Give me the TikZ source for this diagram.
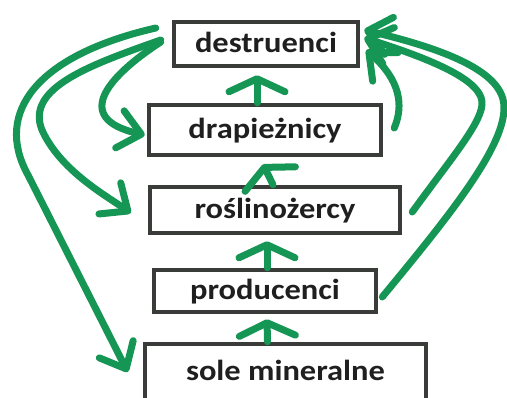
\documentclass[tikz,border=0pt]{standalone}
\usepackage{fontspec}
\setmainfont{Carlito}
\usetikzlibrary{arrows.meta}
\definecolor{grn}{RGB}{22,150,85}
\definecolor{boxc}{RGB}{58,60,58}
\begin{document}
\begin{tikzpicture}[x=1pt,y=-1pt,
  box/.style={draw=boxc,line width=4.5pt,fill=white,inner sep=0pt,
    font=\fontsize{29}{33}\selectfont\bfseries\addfontfeature{FakeStretch=1.12},text=black!88,
    text height=22pt,text depth=4pt},
  sarrow/.style={draw=grn,line width=7pt,line cap=round,
    -{Straight Barb[length=13pt,width=56pt,round]}},
  carrow/.style={draw=grn,line width=7pt,line cap=round,line join=round,
    -{Straight Barb[length=22pt,width=38pt,round]}}]
\useasboundingbox (0,0) rectangle (507,398);
\node[box,minimum width=184pt,minimum height=44pt] (des) at (266,44) {destruenci};
\node[box,minimum width=232pt,minimum height=50pt] (drap) at (265,130) {drapieżnicy};
\node[box,minimum width=250pt,minimum height=46pt] (rosl) at (275,210) {roślinożercy};
\node[box,minimum width=222pt,minimum height=42pt] (prod) at (265,291) {producenci};
\node[box,minimum width=281pt,minimum height=56pt] (sole) at (285.5,372) {sole mineralne};
% short upward arrows
\draw[sarrow] ([xshift=-8pt]drap.north) -- ([xshift=-9pt,yshift=-7pt]des.south);
\draw[sarrow] ([xshift=-2pt]rosl.north) -- ([xshift=-2pt,yshift=-7pt]drap.south);
\draw[sarrow] ([xshift=2pt]prod.north) -- ([xshift=-8pt,yshift=-6pt]rosl.south);
\draw[sarrow] ([xshift=-18pt]sole.north) -- ([xshift=2pt,yshift=-5pt]prod.south);
% left arrows
\draw[carrow] ([shift={(-16,-16)}]des.west) .. controls (38,55) and (-7,112) .. (28,175) -- ([shift={(-15,0)}]sole.west);
\draw[carrow] ([shift={(-11,-4)}]des.west) .. controls (90,65) and (25,88) .. (42,130) .. controls (60,170) and (105,195) .. ([shift={(-17,3)}]rosl.west);
\draw[carrow] ([shift={(-11,-2)}]des.west) .. controls (110,75) and (70,118) .. ([shift={(-2,5)}]drap.west);
% right arrows
\draw[carrow] ([shift={(11,-2)}]drap.east) .. controls (404,105) and (400,80) .. ([shift={(6,6)}]des.east);
\draw[carrow] ([shift={(10,2)}]rosl.east) .. controls (450,160) and (480,125) .. (482,105) .. controls (484,85) and (450,65) .. ([shift={(4,-6)}]des.east);
\draw[carrow] ([shift={(4,6)}]prod.east) .. controls (450,215) and (502,150) .. (504,110) .. controls (506,80) and (470,55) .. ([shift={(4,-14)}]des.east);
\end{tikzpicture}
\end{document}
